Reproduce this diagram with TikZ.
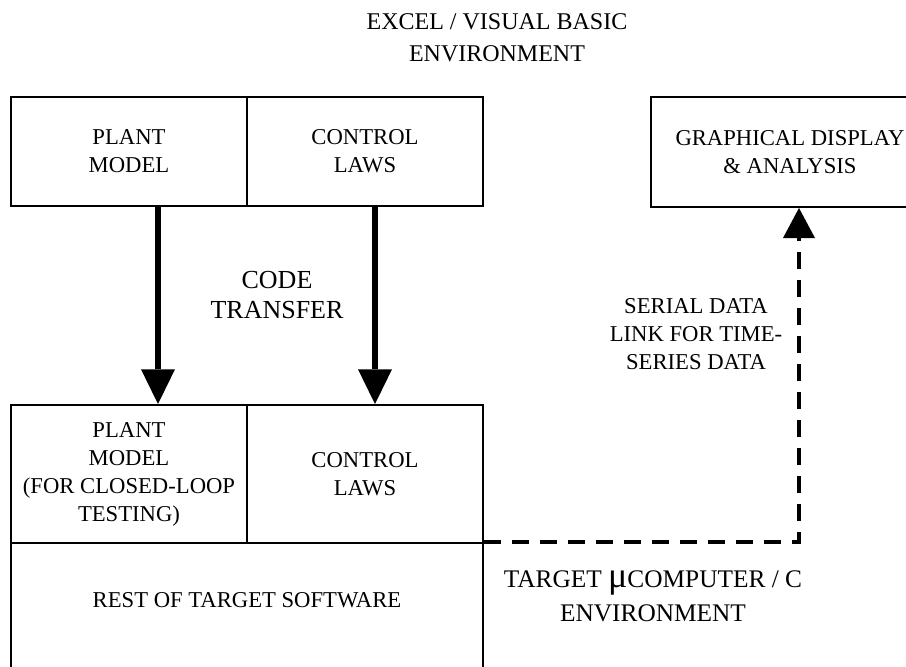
\documentclass[tikz,border=0pt]{standalone}
\usepackage{fontspec}
\setmainfont{Liberation Serif}
\usetikzlibrary{arrows.meta}
\begin{document}
\begin{tikzpicture}[x=0.75pt,y=-0.75pt,
  box/.style={draw,line width=1.5pt,minimum width=177pt,inner sep=0pt,align=center,font=\fontsize{17}{21}\selectfont},
  lbl/.style={align=center,inner sep=0pt},
  codearrow/.style={line width=5pt,-{Triangle[width=25.5pt,length=26pt,line width=0pt]}},
  dataarrow/.style={line width=3pt,dash pattern=on 12.75pt off 8.25pt,-{Triangle[width=24pt,length=22.5pt,line width=0pt]}}
]
\clip (0,0) rectangle (906,667);
% top row (Excel / VB)
\node[box,minimum height=81.75pt] (pmtop) at (129,151.5) {PLANT\\MODEL};
\node[box,minimum height=81.75pt] (cltop) at (365,151.5) {CONTROL\\LAWS};
\node[box,minimum width=208.5pt,minimum height=82.5pt] (gd) at (790,152) {GRAPHICAL DISPLAY\\\& ANALYSIS};
% bottom (target)
\node[box,minimum height=103.5pt,font=\fontsize{17}{21}\selectfont] (pmbot) at (129,474) {PLANT\\MODEL\\(FOR CLOSED-LOOP\\TESTING)};
\node[box,minimum height=103.5pt] (clbot) at (365,474) {CONTROL\\LAWS};
\node[box,minimum width=354pt,minimum height=105pt] (rest) at (247,613) {};
\node[lbl,font=\fontsize{17}{21}\selectfont] (restlbl) at (247,600) {REST OF TARGET SOFTWARE};
% labels
\node[lbl,font=\fontsize{18}{24}\selectfont] (title) at (497,38) {EXCEL / VISUAL BASIC\\ENVIRONMENT};
\node[lbl,font=\fontsize{19.5}{22.5}\selectfont] (code) at (277,295) {CODE\\TRANSFER};
\node[lbl,font=\fontsize{17}{21}\selectfont] (serial) at (696,334) {SERIAL DATA\\LINK FOR TIME-\\SERIES DATA};
\node[lbl,font=\fontsize{19}{25.5}\selectfont] (target) at (653,596) {TARGET {\fontsize{27}{25}\selectfont μ}COMPUTER / C\\ENVIRONMENT};
% connectors
\draw[codearrow] ([xshift=21.75pt]pmtop.south) -- ([xshift=21.75pt]pmbot.north);
\draw[codearrow] ([xshift=7.5pt]cltop.south) -- ([xshift=7.5pt]clbot.north);
\draw[dataarrow] (rest.north east) -| ([xshift=6.75pt]gd.south);
\end{tikzpicture}
\end{document}
